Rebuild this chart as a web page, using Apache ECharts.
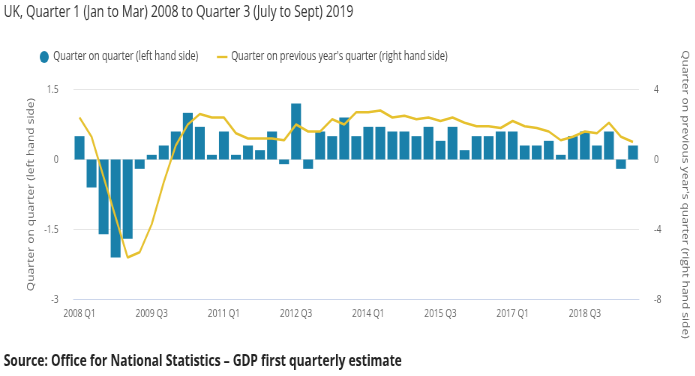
<!DOCTYPE html>
<html>
<head>
<meta charset="utf-8">
<script src="https://cdn.jsdelivr.net/npm/echarts@6/dist/echarts.min.js"></script>
<style>
html,body{margin:0;padding:0;background:#fff;overflow:hidden;}
#wrap{width:927px;height:376px;transform:scaleX(0.75);transform-origin:0 0;}
</style>
</head>
<body>
<div id="wrap"></div>
<script>
var categories = [
 '2008 Q1','2008 Q2','2008 Q3','2008 Q4',
 '2009 Q1','2009 Q2','2009 Q3','2009 Q4',
 '2010 Q1','2010 Q2','2010 Q3','2010 Q4',
 '2011 Q1','2011 Q2','2011 Q3','2011 Q4',
 '2012 Q1','2012 Q2','2012 Q3','2012 Q4',
 '2013 Q1','2013 Q2','2013 Q3','2013 Q4',
 '2014 Q1','2014 Q2','2014 Q3','2014 Q4',
 '2015 Q1','2015 Q2','2015 Q3','2015 Q4',
 '2016 Q1','2016 Q2','2016 Q3','2016 Q4',
 '2017 Q1','2017 Q2','2017 Q3','2017 Q4',
 '2018 Q1','2018 Q2','2018 Q3','2018 Q4',
 '2019 Q1','2019 Q2','2019 Q3'
];
var quarterOnQuarter = [
 0.5,-0.6,-1.6,-2.1,
 -1.7,-0.2,0.1,0.3,
 0.6,1.0,0.7,0.1,
 0.6,0.1,0.3,0.2,
 0.6,-0.1,1.2,-0.2,
 0.6,0.5,0.9,0.5,
 0.7,0.7,0.6,0.6,
 0.5,0.7,0.4,0.7,
 0.2,0.5,0.5,0.6,
 0.6,0.3,0.3,0.4,
 0.1,0.5,0.6,0.3,
 0.6,-0.2,0.3
];
var quarterOnPrevYear = [
 2.4,1.3,-1.0,-3.3,
 -5.6,-5.3,-3.7,-1.3,
 0.8,2.0,2.6,2.4,
 2.4,1.5,1.2,1.2,
 1.2,1.1,2.0,1.6,
 1.6,2.3,2.0,2.7,
 2.7,2.8,2.4,2.5,
 2.3,2.4,2.2,2.4,
 2.1,1.9,1.9,1.8,
 2.2,1.9,1.8,1.6,
 1.1,1.3,1.6,1.5,
 2.1,1.3,1.0
];
var seriesNames = ['Quarter on quarter (left hand side)', "Quarter on previous year's quarter (right hand side)"];
var titleText = 'UK, Quarter 1 (Jan to Mar) 2008 to Quarter 3 (July to Sept) 2019';
var sourceText = 'Source: Office for National Statistics \u2013 GDP first quarterly estimate';

var FONT = '"Open Sans", "Noto Sans", sans-serif';
var barColor = '#1a80aa';
var lineColor = '#e6c12f';

var chart = echarts.init(document.getElementById('wrap'), null, {renderer:'canvas', width:927, height:376});
chart.setOption({
  animation:false,
  backgroundColor:'#fff',
  graphic:[
    {type:'text', left:5, top:4, style:{text:titleText, font:'16px '+FONT, fill:'#333'}},
    {type:'text', left:5, top:353, style:{text:sourceText, font:'bold 16px '+FONT, fill:'#222'}}
  ],
  legend:{
    left:53, top:51, padding:0, itemWidth:14, itemHeight:12, itemGap:25,
    textStyle:{fontFamily:FONT, fontSize:12, color:'#444'},
    data:[
      {name:seriesNames[0], icon:'circle'},
      {name:seriesNames[1], icon:'path://M0,0 L12,0 L12,2 L0,2 Z'}
    ]
  },
  grid:{left:98, right:71, top:89.5, bottom:76.5, containLabel:false},
  xAxis:{
    type:'category', data:categories, boundaryGap:true,
    axisLine:{onZero:false, lineStyle:{color:'#ccd6eb'}},
    axisTick:{alignWithLabel:true, interval:5, length:8, lineStyle:{color:'#ccd6eb'}},
    axisLabel:{interval:5, color:'#666', fontFamily:FONT, fontSize:11, margin:9},
    splitLine:{show:false}
  },
  yAxis:[
    {type:'value', min:-3, max:1.5, interval:1.5, position:'left',
     name:seriesNames[0], nameLocation:'middle', nameGap:50, nameRotate:90,
     nameTextStyle:{fontFamily:FONT, fontSize:12, color:'#666'},
     axisLine:{show:false}, axisTick:{show:false},
     axisLabel:{color:'#666', fontFamily:FONT, fontSize:11, margin:20},
     splitLine:{lineStyle:{color:'#e6e6e6'}}},
    {type:'value', min:-8, max:4, interval:4, position:'right',
     name:seriesNames[1], nameLocation:'middle', nameGap:55, nameRotate:-90,
     nameTextStyle:{fontFamily:FONT, fontSize:12, color:'#666'},
     axisLine:{show:false}, axisTick:{show:false},
     axisLabel:{color:'#666', fontFamily:FONT, fontSize:11, margin:20},
     splitLine:{show:false}}
  ],
  series:[
    {name:seriesNames[0], type:'bar', yAxisIndex:0, data:quarterOnQuarter,
     barCategoryGap:'18%', itemStyle:{color:barColor}},
    {name:seriesNames[1], type:'line', yAxisIndex:1, data:quarterOnPrevYear,
     symbol:'none', lineStyle:{color:lineColor, width:2.5}, itemStyle:{color:lineColor}, z:3}
  ]
});
</script>
</body>
</html>
